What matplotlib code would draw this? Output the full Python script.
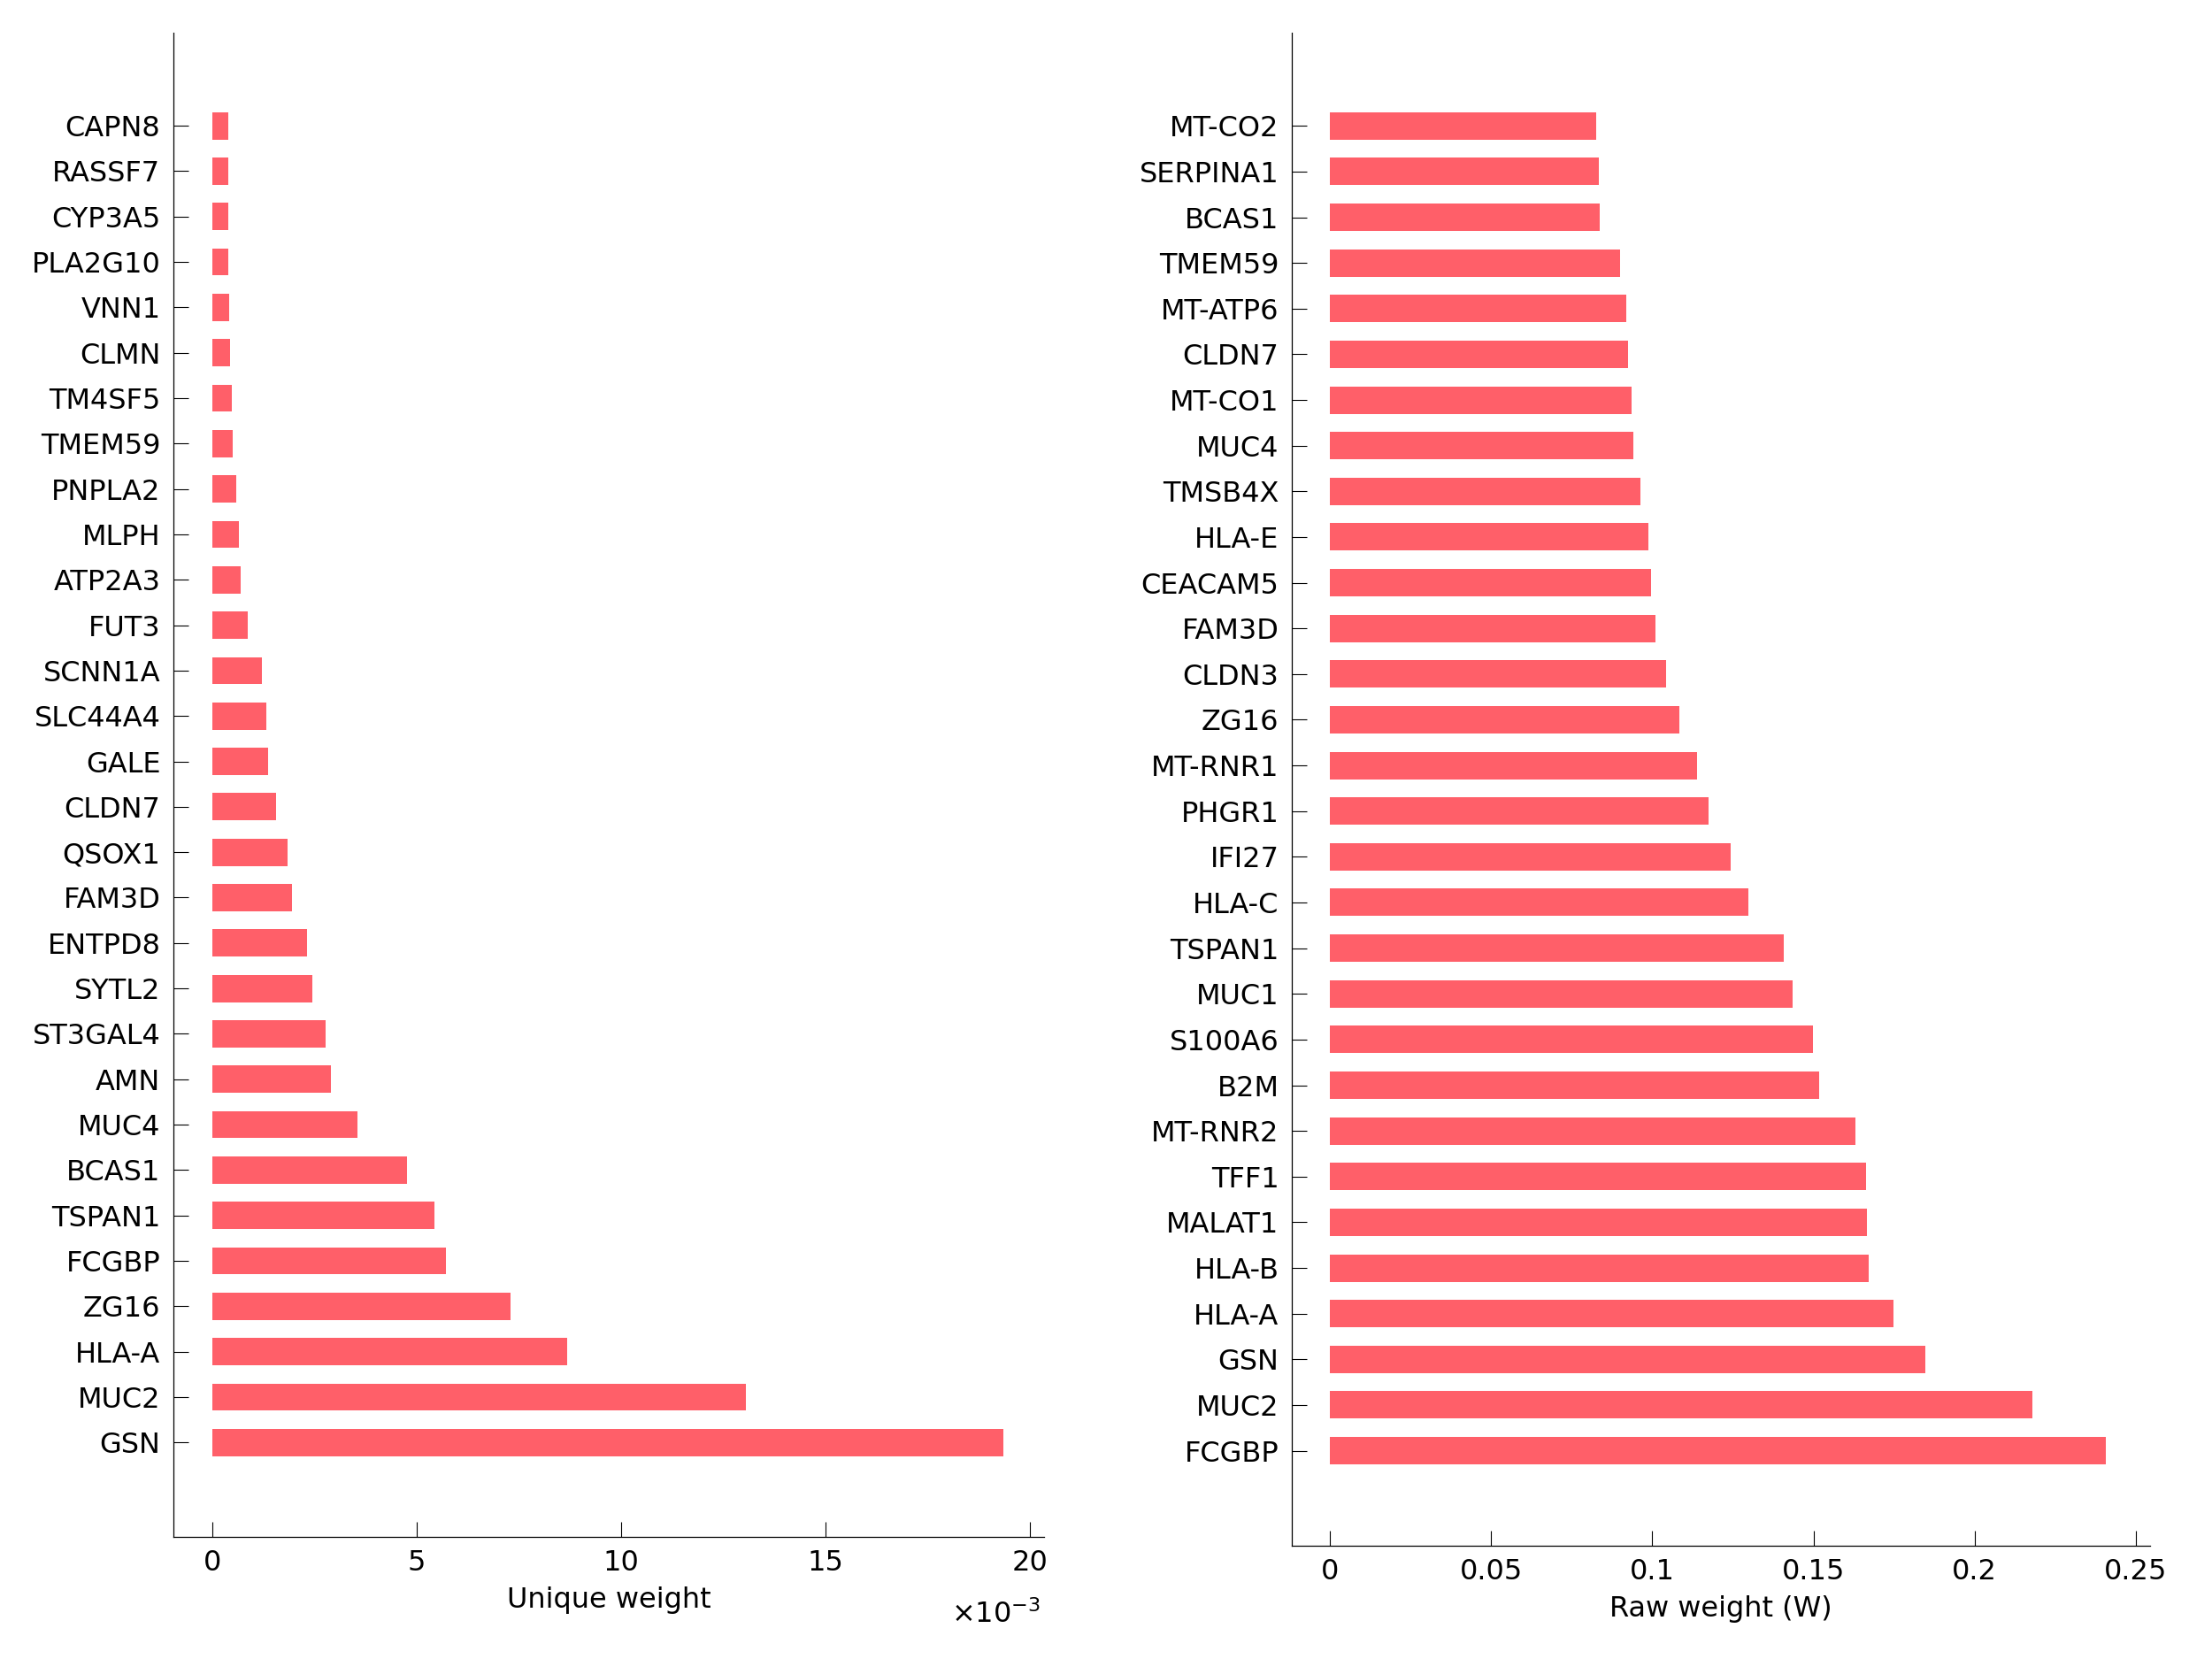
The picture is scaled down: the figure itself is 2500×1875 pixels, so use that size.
import matplotlib
matplotlib.use("Agg")
import matplotlib.pyplot as plt
from matplotlib.ticker import FuncFormatter

plt.rcParams['font.family'] = ['DejaVu Sans']

# Left panel: unique weight (top to bottom)
unique_genes = ["CAPN8", "RASSF7", "CYP3A5", "PLA2G10", "VNN1", "CLMN", "TM4SF5",
                "TMEM59", "PNPLA2", "MLPH", "ATP2A3", "FUT3", "SCNN1A", "SLC44A4",
                "GALE", "CLDN7", "QSOX1", "FAM3D", "ENTPD8", "SYTL2", "ST3GAL4",
                "AMN", "MUC4", "BCAS1", "TSPAN1", "FCGBP", "ZG16", "HLA-A", "MUC2", "GSN"]
unique_weight = [0.383e-3, 0.39e-3, 0.39e-3, 0.40e-3, 0.42e-3, 0.43e-3, 0.48e-3,
                 0.50e-3, 0.59e-3, 0.64e-3, 0.69e-3, 0.86e-3, 1.22e-3, 1.33e-3,
                 1.36e-3, 1.57e-3, 1.83e-3, 1.94e-3, 2.31e-3, 2.44e-3, 2.77e-3,
                 2.91e-3, 3.56e-3, 4.76e-3, 5.43e-3, 5.72e-3, 7.29e-3, 8.68e-3,
                 13.06e-3, 19.35e-3]

# Right panel: raw weight (top to bottom)
raw_genes = ["MT-CO2", "SERPINA1", "BCAS1", "TMEM59", "MT-ATP6", "CLDN7", "MT-CO1",
             "MUC4", "TMSB4X", "HLA-E", "CEACAM5", "FAM3D", "CLDN3", "ZG16", "MT-RNR1",
             "PHGR1", "IFI27", "HLA-C", "TSPAN1", "MUC1", "S100A6", "B2M", "MT-RNR2",
             "TFF1", "MALAT1", "HLA-B", "HLA-A", "GSN", "MUC2", "FCGBP"]
raw_weight = [0.0825, 0.0834, 0.0837, 0.0899, 0.0920, 0.0925, 0.0935,
              0.0942, 0.0962, 0.0988, 0.0995, 0.1009, 0.1042, 0.1084, 0.1138,
              0.1175, 0.1243, 0.1299, 0.1407, 0.1434, 0.1498, 0.1517, 0.1629,
              0.1664, 0.1666, 0.1670, 0.1748, 0.1848, 0.2178, 0.2407]

uw_ticks = [0, 0.005, 0.010, 0.015, 0.020]
rw_ticks = [0, 0.05, 0.1, 0.15, 0.2, 0.25]
rw_ticklabels = ["0", "0.05", "0.1", "0.15", "0.2", "0.25"]

BAR = '#FF5F69'
FS = 23

fig = plt.figure(figsize=(25, 18.75), dpi=100)
axL = fig.add_axes([0.0784, 0.0736, 0.472 - 0.0784, 0.9803 - 0.0736])
axR = fig.add_axes([0.584, 0.0683, 0.972 - 0.584, 0.9803 - 0.0683])


def style(ax):
    for s in ['top', 'right']:
        ax.spines[s].set_visible(False)
    for s in ['left', 'bottom']:
        ax.spines[s].set_linewidth(0.9)
    ax.tick_params(axis='both', direction='in', length=12.2, width=0.8,
                   labelsize=FS, colors='black')
    ax.tick_params(axis='y', pad=10.5)
    ax.tick_params(axis='x', pad=10)


n = len(unique_genes)
posL = list(range(n, 0, -1))
axL.barh(posL, unique_weight, height=0.6, color=BAR, edgecolor='none')
axL.set_yticks(posL)
axL.set_yticklabels(unique_genes)
axL.set_ylim(-1.08, n + 2.05)
axL.set_xlim(-0.952e-3, 20.35e-3)
axL.set_xticks(uw_ticks)
axL.xaxis.set_major_formatter(FuncFormatter(lambda v, p: f"{v * 1e3:g}"))
axL.set_xlabel("Unique weight", fontsize=FS, labelpad=8)
axL.annotate(r"$\times10^{-3}$", xy=(1.0, 0.0), xycoords='axes fraction',
             xytext=(-3, -63), textcoords='offset points',
             ha='right', va='center', fontsize=FS)
style(axL)

m = len(raw_genes)
posR = list(range(m, 0, -1))
axR.barh(posR, raw_weight, height=0.6, color=BAR, edgecolor='none')
axR.set_yticks(posR)
axR.set_yticklabels(raw_genes)
axR.set_ylim(-1.08, m + 2.04)
axR.set_xlim(-0.01185, 0.2544)
axR.set_xticks(rw_ticks)
axR.set_xticklabels(rw_ticklabels)
axR.set_xlabel("Raw weight (W)", fontsize=FS, labelpad=8)
style(axR)

fig.savefig("out.png", dpi=100, facecolor='white')
